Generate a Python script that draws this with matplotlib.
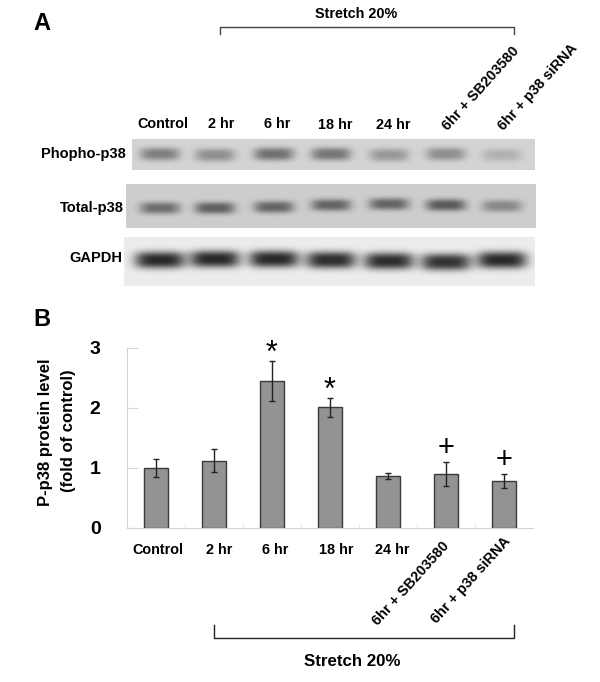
#!/usr/bin/env python
import matplotlib
matplotlib.use("Agg")
import matplotlib.pyplot as plt
import numpy as np

plt.rcParams["font.family"] = ["Liberation Sans", "DejaVu Sans"]
plt.rcParams["font.weight"] = "bold"

W, H = 600, 682

# chart values
categories = ["Control", "2 hr", "6 hr", "18 hr", "24 hr", "6hr + SB203580", "6hr + p38 siRNA"]
means = [1.0, 1.12, 2.45, 2.02, 0.86, 0.90, 0.78]
err_low = [0.15, 0.19, 0.34, 0.17, 0.04, 0.20, 0.11]
err_high = [0.15, 0.20, 0.33, 0.15, 0.05, 0.20, 0.12]
y_ticks = [0, 1, 2, 3]
star_bars = [2, 3]
plus_bars = [5, 6]

# western blot band readings, one per lane
lane_x = [160, 215, 274, 331, 389, 446, 502]
phospho_depth = [85, 70, 100, 95, 60, 70, 35]
phospho_y = [154, 155, 154, 154, 155, 154, 155]
total_depth = [95, 110, 105, 105, 105, 115, 70]
total_y = [208, 208, 207, 205, 204, 205, 206]
gapdh_depth = [195, 195, 195, 190, 190, 185, 195]
gapdh_y = [260, 259, 259, 260, 261, 262, 260]


def draw_blot(ax, box, bg, depth, ys, half_w, half_h):
    x0, x1, y0, y1 = box
    xx, yy = np.meshgrid(np.arange(x0, x1) + 0.5, np.arange(y0, y1) + 0.5)
    img = np.full(xx.shape, float(bg))
    for lx, d, ly in zip(lane_x, depth, ys):
        img -= d * np.exp(-(((xx - lx) / half_w) ** 4)) * np.exp(-(np.abs((yy - ly) / half_h) ** 2.6))
    ax.imshow(np.clip(img, 0, 255), cmap="gray", vmin=0, vmax=255, extent=(x0, x1, y1, y0),
              aspect="auto", interpolation="bilinear", zorder=1)


fig = plt.figure(figsize=(W / 100, H / 100), dpi=100)

# overlay in pixel coordinates for the blot panel and annotations
ov = fig.add_axes([0, 0, 1, 1])
draw_blot(ov, (132, 535, 139, 170), 212, phospho_depth, phospho_y, 20, 6.5)
draw_blot(ov, (126, 536, 184, 228), 205, total_depth, total_y, 20, 6)
draw_blot(ov, (124, 535, 237, 286), 236, gapdh_depth, gapdh_y, 25, 8.5)
ov.set_xlim(0, W)
ov.set_ylim(H, 0)
ov.axis("off")

ov.text(42, 23, "A", fontsize=17, ha="center", va="center")
ov.text(42, 320, "B", fontsize=17, ha="center", va="center")

ov.plot([220, 220, 514, 514], [34, 26.5, 26.5, 34], color="#444444", lw=1)
ov.text(356, 14, "Stretch 20%", fontsize=10.4, ha="center", va="center")

top_x = [163, 221, 277, 335, 393.5]
top_y = [124, 124, 124, 125, 125]
for name, x, y in zip(categories[:5], top_x, top_y):
    ov.text(x, y, name, fontsize=10.4, ha="center", va="center")
ov.text(481, 88, categories[5], fontsize=10.4, rotation=48, ha="center", va="center",
        rotation_mode="anchor")
ov.text(538, 87, categories[6], fontsize=10.4, rotation=48, ha="center", va="center",
        rotation_mode="anchor")

ov.text(126, 154, "Phopho-p38", fontsize=10.5, ha="right", va="center")
ov.text(124, 208, "Total-p38", fontsize=10.5, ha="right", va="center")
ov.text(122, 258, "GAPDH", fontsize=10.5, ha="right", va="center")

# bar chart panel
ax = fig.add_axes([127 / W, 1 - 528 / H, 406 / W, 180 / H])
ax.patch.set_alpha(0)
x = np.arange(len(categories))
ax.bar(x, means, width=24 / 58, color="#939393", edgecolor="#3a3a3a", linewidth=1)
ax.errorbar(x, means, yerr=[err_low, err_high], fmt="none", ecolor="#222222",
            elinewidth=1, capsize=2.2, capthick=1)
ax.set_xlim(-0.5, 6.5)
ax.set_ylim(0, 3)
ax.set_yticks(y_ticks)
ax.set_yticklabels([str(v) for v in y_ticks], fontsize=14)
ax.set_xticks(x[:-1] + 0.5)
ax.set_xticklabels([])
ax.tick_params(axis="y", direction="in", length=8, width=0.8, color="#d8d8d8", pad=19)
ax.tick_params(axis="x", direction="in", length=3, width=0.8, color="#e4e4e4")
for side in ["top", "right"]:
    ax.spines[side].set_visible(False)
for side in ["left", "bottom"]:
    ax.spines[side].set_color("#d4d4d4")

for i in star_bars:
    ax.text(i, means[i] + err_high[i] + 0.12, "*", fontsize=22, fontweight="normal",
            ha="center", va="center")
for i in plus_bars:
    ax.text(i, means[i] + err_high[i] + 0.24, "+", fontsize=21, fontweight="normal",
            ha="center", va="center")

bottom_x = [158, 219, 275, 336.5, 392]
for name, bx in zip(categories[:5], bottom_x):
    ov.text(bx, 550, name, fontsize=10.4, ha="center", va="center")
ov.text(411, 583, categories[5], fontsize=10.4, rotation=48, ha="center", va="center",
        rotation_mode="anchor")
ov.text(471, 580, categories[6], fontsize=10.4, rotation=48, ha="center", va="center",
        rotation_mode="anchor")

ov.text(46, 432, "P-p38 protein level", fontsize=12, rotation=90, ha="center", va="center")
ov.text(68, 431, "(fold of control)", fontsize=12, rotation=90, ha="center", va="center")

ov.plot([213.5, 213.5, 514, 514], [625, 638, 638, 625], color="#222222", lw=1)
ov.text(352, 661, "Stretch 20%", fontsize=12.2, ha="center", va="center")

fig.savefig("out.png", dpi=100)
